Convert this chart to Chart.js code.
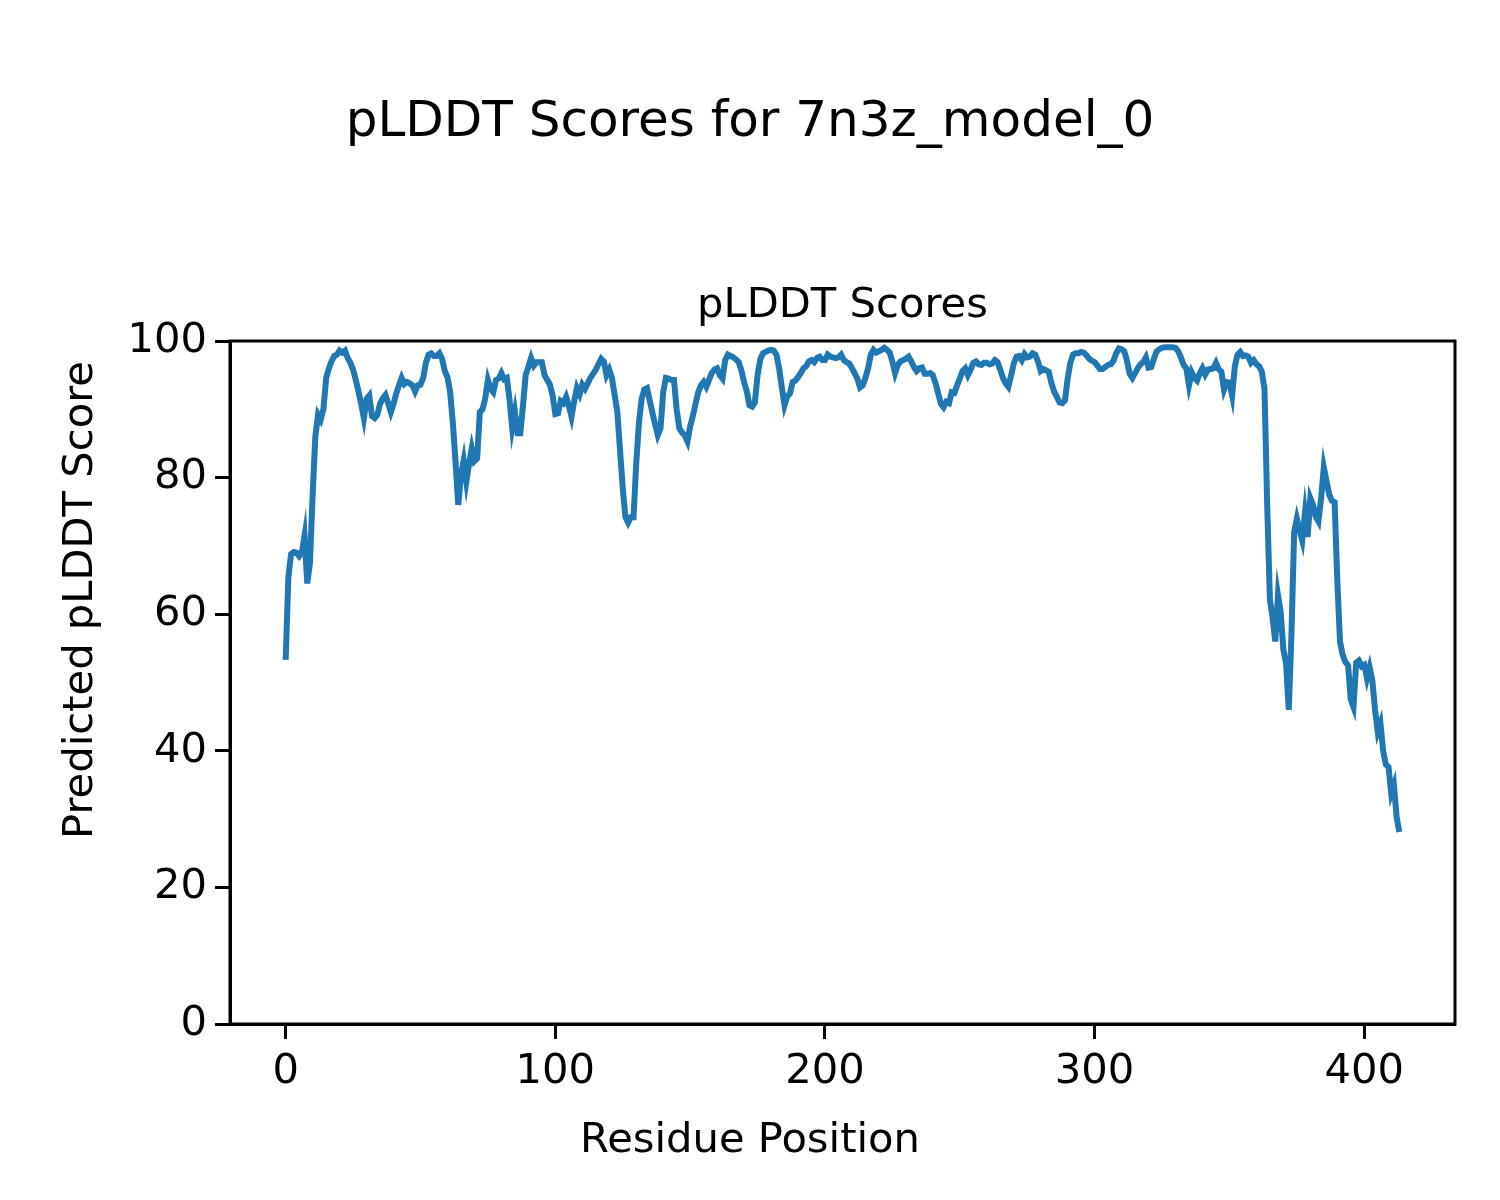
<!DOCTYPE html>
<html>
<head>
<meta charset="utf-8">
<script src="https://cdn.jsdelivr.net/npm/chart.js@4.4.1/dist/chart.umd.min.js"></script>
<style>
  html, body { margin: 0; padding: 0; background: #fff; }
  #wrap { width: 1500px; height: 1200px; }
</style>
</head>
<body>
<div id="wrap"><canvas id="grafik" width="1500" height="1200"></canvas></div>
<script>
// pLDDT per residue (0..413)
const scores = [
  53.3, 65.5, 68.8, 69.1, 69.0, 68.5, 69.0, 71.5, 64.5, 67.5,
  77.5, 86.0, 89.2, 88.5, 90.0, 94.5, 96.0, 97.0, 97.8, 98.0,
  98.6, 98.3, 98.6, 97.5, 96.8, 95.8, 94.3, 92.6, 90.8, 88.7,
  91.5, 92.0, 89.0, 88.7, 89.2, 90.8, 91.6, 92.1, 90.9, 89.6,
  90.8, 92.3, 93.5, 94.6, 93.7, 94.0, 93.8, 93.5, 92.6, 93.5,
  93.6, 94.6, 96.8, 98.0, 98.2, 97.8, 97.8, 98.2, 97.4, 95.6,
  94.7, 92.5, 88.0, 82.2, 76.0, 80.4, 82.5, 79.4, 82.0, 84.3,
  82.4, 82.8, 89.6, 90.0, 91.6, 94.3, 93.0, 92.5, 94.3, 94.5,
  95.3, 94.4, 94.6, 91.5, 87.3, 89.6, 86.5, 86.5, 90.5, 95.0,
  96.2, 97.5, 96.4, 96.9, 96.9, 96.9, 95.0, 94.3, 93.6, 92.0,
  89.3, 89.4, 91.2, 90.9, 91.8, 90.5, 88.9, 91.2, 93.1, 92.2,
  93.6, 93.0, 93.8, 94.6, 95.2, 95.8, 96.6, 97.4, 97.0, 95.0,
  95.8, 94.6, 92.1, 89.6, 84.0, 78.5, 74.2, 73.4, 74.2, 74.2,
  82.0, 88.0, 91.5, 92.9, 93.1, 91.3, 89.5, 87.8, 86.2, 87.2,
  92.5, 94.6, 94.5, 94.3, 94.3, 90.0, 87.2, 86.6, 86.2, 85.3,
  87.5, 89.0, 90.8, 92.5, 93.5, 94.0, 93.3, 94.3, 95.3, 95.8,
  96.0, 95.0, 94.5, 97.2, 98.0, 97.8, 97.6, 97.3, 96.9, 95.7,
  94.0, 92.6, 90.6, 90.4, 91.0, 95.0, 97.3, 98.2, 98.4, 98.6,
  98.7, 98.6, 98.0, 96.0, 93.2, 90.6, 91.9, 92.3, 94.0, 94.2,
  94.7, 95.3, 96.0, 96.3, 97.0, 97.2, 96.9, 97.5, 97.7, 97.2,
  97.2, 98.0, 97.7, 97.6, 97.5, 97.6, 98.0, 97.2, 96.9, 96.7,
  96.0, 95.3, 94.5, 93.2, 93.5, 94.6, 96.0, 98.0, 98.7, 98.3,
  98.5, 98.7, 99.0, 98.7, 98.3, 97.0, 95.3, 96.5, 97.0, 97.2,
  97.4, 97.7, 97.0, 96.2, 95.6, 96.0, 96.1, 95.2, 95.2, 95.3,
  95.0, 93.8, 92.3, 90.8, 90.3, 91.1, 90.9, 92.5, 92.4, 93.5,
  94.5, 95.6, 96.0, 95.0, 95.8, 96.8, 97.0, 96.6, 96.5, 96.8,
  96.8, 96.6, 96.7, 97.2, 96.9, 95.8, 94.6, 93.8, 93.3, 94.9,
  96.7, 97.7, 97.8, 97.2, 98.1, 97.6, 97.7, 98.2, 98.0, 97.0,
  95.6, 95.9, 95.7, 95.5, 93.8, 92.6, 91.8, 91.0, 90.9, 91.3,
  94.5, 96.8, 98.0, 98.2, 98.2, 98.4, 98.3, 97.9, 97.4, 97.1,
  96.9, 96.4, 95.9, 95.9, 96.2, 96.5, 96.6, 97.1, 98.2, 98.9,
  98.8, 98.5, 97.1, 95.2, 94.6, 95.3, 96.0, 96.6, 96.9, 97.6,
  96.1, 96.2, 97.4, 98.5, 98.8, 99.0, 99.1, 99.1, 99.1, 99.1,
  99.0, 98.5, 97.6, 96.5, 96.0, 93.5, 95.4, 94.6, 94.2, 95.3,
  96.0, 95.1, 95.8, 95.9, 96.0, 96.8, 95.9, 95.5, 92.9, 94.0,
  93.9, 92.0, 96.3, 98.0, 98.4, 97.8, 97.9, 97.7, 96.8, 97.2,
  96.6, 96.3, 95.5, 93.0, 76.0, 62.2, 59.5, 56.0, 62.8, 60.3,
  54.8, 52.8, 46.0, 57.0, 72.0, 74.0, 72.3, 70.8, 74.8, 71.3,
  77.0, 76.0, 74.3, 73.6, 77.0, 81.5, 79.5, 77.5, 76.6, 76.4,
  65.0, 56.0, 54.0, 53.0, 52.5, 47.5, 46.4, 52.9, 53.2, 52.4,
  52.6, 50.6, 52.2, 50.3, 46.0, 42.8, 44.0, 40.0, 38.0, 37.6,
  33.8, 35.0, 30.3, 28.1
];

const xTicks = [0, 100, 200, 300, 400];
const yTicks = [0, 20, 40, 60, 80, 100];

const judul = "pLDDT Scores for 7n3z_model_0";
const subjudul = "pLDDT Scores";
const labelX = "Residue Position";
const labelY = "Predicted pLDDT Score";

const FONT = '"DejaVu Sans", sans-serif';

// bingkai + semua teks judul digambar manual supaya posisinya pas
const bingkai = {
  id: "bingkai",
  afterDraw(chart) {
    const { ctx, chartArea: a } = chart;
    ctx.save();
    ctx.strokeStyle = "#000";
    ctx.lineWidth = 3;
    ctx.strokeRect(a.left, a.top, a.right - a.left, a.bottom - a.top);

    ctx.fillStyle = "#000";
    ctx.textAlign = "center";
    ctx.textBaseline = "alphabetic";
    ctx.font = "50px " + FONT;
    ctx.fillText(judul, 750, 136);

    ctx.font = "41.67px " + FONT;
    ctx.fillText(subjudul, (a.left + a.right) / 2, 317);

    ctx.fillText(labelX, 750, 1152);

    ctx.translate(92, 600);
    ctx.rotate(-Math.PI / 2);
    ctx.fillText(labelY, 0, 0);
    ctx.restore();
  },
};

const ctx = document.getElementById("grafik").getContext("2d");
new Chart(ctx, {
  type: "line",
  data: {
    datasets: [
      {
        data: scores.map((v, i) => ({ x: i, y: v })),
        borderColor: "#1f77b4",
        borderWidth: 6,
        pointRadius: 0,
        tension: 0,
        fill: false,
      },
    ],
  },
  options: {
    responsive: false,
    animation: false,
    events: [],
    layout: { padding: { left: 0, right: 45, top: 341, bottom: 0 } },
    plugins: {
      legend: { display: false },
      tooltip: { enabled: false },
      title: { display: false },
    },
    scales: {
      x: {
        type: "linear",
        min: -20.65,
        max: 433.65,
        afterBuildTicks: (s) => { s.ticks = xTicks.map((v) => ({ value: v })); },
        afterFit: (s) => { s.height = 176; },
        grid: { drawOnChartArea: false, drawTicks: true, tickLength: 15, tickWidth: 3, tickColor: "#000" },
        border: { display: true, color: "#000", width: 3 },
        ticks: { color: "#000", font: { family: FONT, size: 41.67 }, padding: 8, maxRotation: 0 },
      },
      y: {
        min: 0,
        max: 100,
        afterBuildTicks: (s) => { s.ticks = yTicks.map((v) => ({ value: v })); },
        afterFit: (s) => { s.width = 230; },
        grid: { drawOnChartArea: false, drawTicks: true, tickLength: 15, tickWidth: 3, tickColor: "#000" },
        border: { display: true, color: "#000", width: 3 },
        ticks: { color: "#000", font: { family: FONT, size: 41.67 }, padding: 8 },
      },
    },
  },
  plugins: [bingkai],
});
</script>
</body>
</html>
